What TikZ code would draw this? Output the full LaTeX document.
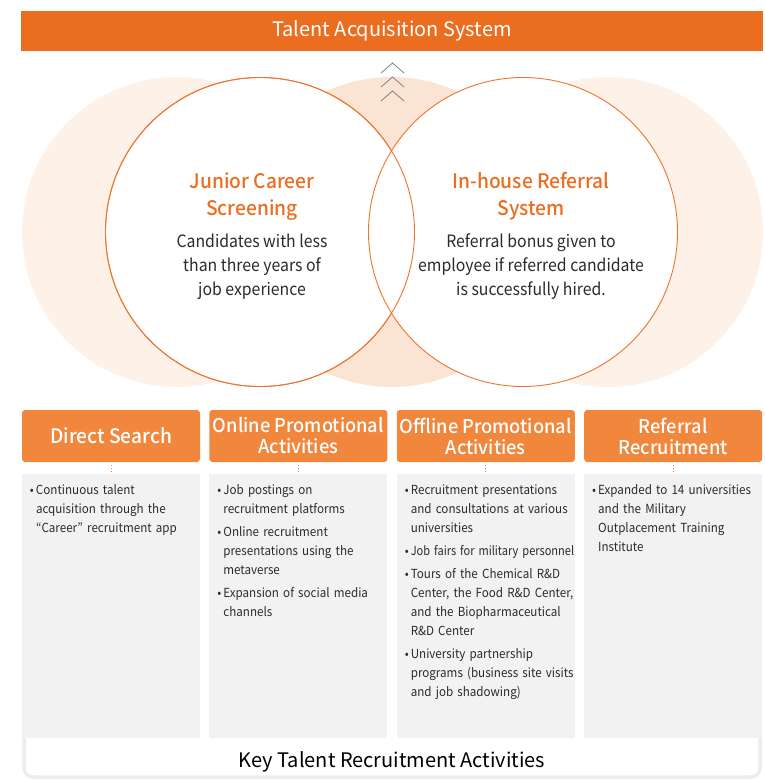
\documentclass[tikz,border=0pt]{standalone}
\usepackage{fontspec}
\setmainfont{Noto Sans CJK KR}[BoldFont={Noto Sans CJK KR Medium}]
\newfontfamily\listfont{Noto Sans CJK KR}[FakeStretch=0.93]
\newfontfamily\headfont{Noto Sans CJK KR Medium}[FakeStretch=0.96]
\usetikzlibrary{positioning}
\definecolor{barorange}{HTML}{EB6D20}
\definecolor{headorange}{HTML}{F0873D}
\definecolor{ringorange}{HTML}{EE7330}
\definecolor{lightpeach}{HTML}{FDF1E8}
\definecolor{midpeach}{HTML}{FCE4D5}
\definecolor{panegray}{HTML}{F2F2F2}
\definecolor{framegray}{HTML}{ECECEC}
\definecolor{chevgray}{HTML}{808080}
\definecolor{inktext}{HTML}{2B2B2B}
\newcommand{\listsetup}{\listfont\fontsize{12.5}{18.8}\selectfont\setlength{\parskip}{4.5pt}\hyphenpenalty=10000 \exhyphenpenalty=10000 }
\newcommand{\bulletline}[1]{\par\hangindent=6pt\hangafter=1\noindent\makebox[6pt][l]{\textbullet}#1\par}
\begin{document}
\begin{tikzpicture}[x=1pt,y=-1pt,
    bar/.style={fill=barorange, text=white, minimum width=742pt, minimum height=40pt, inner sep=0pt, font=\fontsize{20}{24}\selectfont},
    ring/.style={circle, draw=ringorange, line width=0.9pt, fill=white, minimum size=309pt, inner sep=0pt},
    ringtitle/.style={text=barorange, align=center, font=\headfont\fontsize{20}{27}\selectfont},
    ringbody/.style={text=inktext, align=center, font=\listfont\fontsize{17}{24}\selectfont},
    chev/.style={draw=chevgray, line width=0.8pt},
    head/.style={fill=headorange, text=white, rounded corners=3pt, minimum width=178pt, minimum height=52pt, inner sep=0pt, align=center, font=\headfont\fontsize{19}{21}\selectfont},
    pane/.style={fill=panegray, minimum width=178pt, minimum height=264pt, inner sep=0pt},
    list/.style={anchor=north west, text width=190pt, inner sep=0pt, text=inktext, font=\listsetup},
    link/.style={draw=headorange, dotted, line width=1pt, shorten <=3pt, shorten >=1pt},
    node distance=9pt,
  ]
  \useasboundingbox (0,0) rectangle (764,780);
  \node[bar] (system) at (392,31) {Talent Acquisition System};

  \fill[lightpeach] (177,232) circle (155pt) (608,232) circle (155pt);
  \fill[midpeach] (391.5,232) circle (155pt);
  \node[ring] (junior) at (260,232) {};
  \node[ring] (referral) at (523,232) {};
  \draw[ringorange, line width=0.9pt] (junior) circle (154.5pt);
  \foreach \y in {63,77,91}
    \draw[chev] (381,\y+10) -- (392.5,\y) -- (404,\y+10);

  \node[ringtitle] (juniortitle) at ([xshift=-8pt,yshift=35.5pt]junior.center) {Junior Career\\Screening};
  \node[ringbody] (juniortext) at ([xshift=-8pt,yshift=-35pt]junior.center) {Candidates with less\\than three years of\\job experience};
  \node[ringtitle] (referraltitle) at ([xshift=8pt,yshift=35.5pt]referral.center) {In-house Referral\\System};
  \node[ringbody] (referraltext) at ([xshift=8pt,yshift=-35pt]referral.center) {Referral bonus given to\\employee if referred candidate\\is successfully hired.};

  \draw[framegray, line width=3.5pt, rounded corners=9pt] (24,738) -- (24,777) -- (760,777) -- (760,738);

  \node[head, font=\headfont\fontsize{20}{21}\selectfont] (direct) at (111,436) {Direct Search};
  \node[head, right=of direct] (online) {Online Promotional\\Activities};
  \node[head, right=of online] (offline) {Offline Promotional\\Activities};
  \node[head, right=of offline] (referrals) {Referral\\Recruitment};

  \node[pane, below=12pt of direct] (directpane) {};
  \node[pane, below=12pt of online] (onlinepane) {};
  \node[pane, below=12pt of offline] (offlinepane) {};
  \node[pane, below=12pt of referrals] (referralspane) {};

  \draw[link] (direct) -- (directpane);
  \draw[link] (online) -- (onlinepane);
  \draw[link] (offline) -- (offlinepane);
  \draw[link] (referrals) -- (referralspane);

  \node[list] (directlist) at ([xshift=8pt,yshift=3pt]directpane.north west) {%
    \bulletline{Continuous talent\newline acquisition through the\newline “Career” recruitment app}};
  \node[list] (onlinelist) at ([xshift=8pt,yshift=3pt]onlinepane.north west) {%
    \bulletline{Job postings on\newline recruitment platforms}
    \bulletline{Online recruitment\newline presentations using the\newline metaverse}
    \bulletline{Expansion of social media\newline channels}};
  \node[list] (offlinelist) at ([xshift=8pt,yshift=3pt]offlinepane.north west) {%
    \bulletline{Recruitment presentations\newline and consultations at various\newline universities}
    \bulletline{\scalebox{0.95}[1]{Job fairs for military personnel}}
    \bulletline{Tours of the Chemical R\&D\newline Center, the Food R\&D Center,\newline and the Biopharmaceutical\newline R\&D Center}
    \bulletline{University partnership\newline programs (business site visits\newline and job shadowing)}};
  \node[list] (referralslist) at ([xshift=8pt,yshift=3pt]referralspane.north west) {%
    \bulletline{Expanded to 14 universities\newline and the Military\newline Outplacement Training\newline Institute}};

  \node[font=\fontsize{20}{24}\selectfont, text=black] (keyactivities) at (392,762) {Key Talent Recruitment Activities};
\end{tikzpicture}
\end{document}
